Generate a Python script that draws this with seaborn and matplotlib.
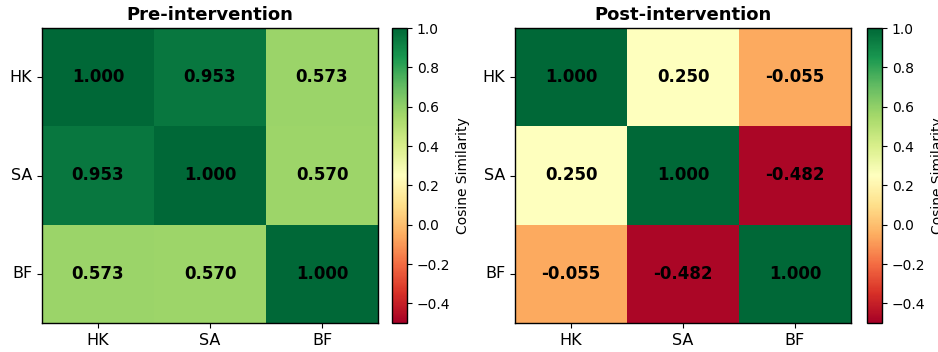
import numpy as np
import pandas as pd
import matplotlib
matplotlib.use("Agg")
import matplotlib.pyplot as plt
import seaborn as sns

labels = ["HK", "SA", "BF"]
pre_values = [[1.000, 0.953, 0.573],
              [0.953, 1.000, 0.570],
              [0.573, 0.570, 1.000]]
post_values = [[1.000, 0.250, -0.055],
               [0.250, 1.000, -0.482],
               [-0.055, -0.482, 1.000]]
titles = ["Pre-intervention", "Post-intervention"]
cbar_ticks = [-0.4, -0.2, 0.0, 0.2, 0.4, 0.6, 0.8, 1.0]

plt.rcParams['font.family'] = ['DejaVu Sans']
fig = plt.figure(figsize=(9.38, 3.52), dpi=100)
W, H = 938, 352

def box(x0, x1, y0, y1):
    return [x0 / W, 1 - y1 / H, (x1 - x0) / W, (y1 - y0) / H]

layout = [((42, 378), (392, 407)), ((515, 851), (867, 882))]
for vals, title, ((ax0, ax1), (cx0, cx1)) in zip([pre_values, post_values], titles, layout):
    ax = fig.add_axes(box(ax0, ax1, 28, 323))
    cax = fig.add_axes(box(cx0, cx1, 28, 323))
    df = pd.DataFrame(vals, index=labels, columns=labels)
    sns.heatmap(df, ax=ax, cbar_ax=cax, cmap="RdYlGn", vmin=-0.5, vmax=1.0,
                annot=True, fmt=".3f",
                annot_kws={"fontsize": 12, "fontweight": "bold", "color": "black"},
                cbar_kws={"label": "Cosine Similarity", "ticks": cbar_ticks})
    ax.set_title(title, fontsize=13, fontweight="bold")
    ax.tick_params(axis="both", labelsize=11.5, length=3.5)
    ax.tick_params(axis="y", rotation=0)
    ax.tick_params(axis="x", rotation=0)
    for s in ax.spines.values():
        s.set_visible(True)
        s.set_color("black")
        s.set_linewidth(1.0)
    cbar = ax.collections[0].colorbar
    cax.tick_params(labelsize=10, length=3.5)
    cax.yaxis.label.set_size(10)
    cbar.outline.set_visible(True)
    cbar.outline.set_edgecolor("black")
    cbar.outline.set_linewidth(1.0)

fig.savefig("out.png", dpi=100)
